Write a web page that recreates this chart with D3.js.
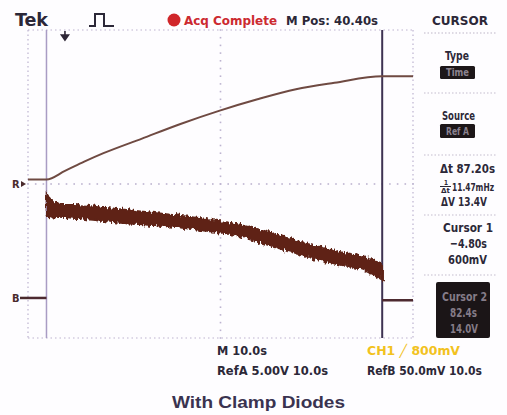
<!DOCTYPE html>
<html>
<head>
<meta charset="utf-8">
<script src="https://cdn.jsdelivr.net/npm/d3@7"></script>
<style>
  html, body { margin: 0; padding: 0; background: #fff; }
  svg { display: block; }
  .lbl { font-family: "DejaVu Sans Condensed", "Liberation Sans Narrow", "Liberation Sans", sans-serif; font-weight: bold; }
</style>
</head>
<body>
<div id="scope"></div>
<script>
// ---- data ----
// time axis (s): centre of screen is M Pos 40.40s, 10.0s/div
const timeDomain = [-9.6, 90.4];

// Ref A (5.00V/div), thin rising trace
const refATime  = [-9.6, -4.8, 0, 5, 10, 20, 30, 40, 50, 60, 70, 82.4, 90.4];
const refAVolts = [0.6, 0.6, 1.7, 2.9, 4.0, 5.9, 7.8, 9.5, 11.0, 12.3, 13.15, 14.0, 14.0];

// Ref B (50.0mV/div), noisy band between cursors: top and bottom of the band in mV
const refBTime   = [-4.8, -3.5, -1.3, 2.1, 10.9, 28.1, 35.1, 43.6, 52.5, 61.1, 69.6, 78.5, 82.4];
const refBTopMv  = [136, 127, 121, 121, 117, 108, 104, 97, 86, 73, 62, 52, 45];
const refBBotMv  = [105, 104, 105, 104, 99, 92, 88, 82, 69, 56, 45, 34, 23];
// Ref B outside the cursors
const refBPreTime = [-9.6, -4.8],  refBPreMv  = [0, 0];
const refBPostTime = [82.4, 90.4], refBPostMv = [-3, -3];

// cursors
const cursorTimes = [-4.8, 82.4];
const triggerTime = 0;

// readouts
const headerTexts = ['Tek', 'Acq Complete', 'M Pos: 40.40s', 'CURSOR'];
const bottomTexts = ['M 10.0s', 'CH1 \u2571 800mV', 'RefA 5.00V 10.0s', 'RefB 50.0mV 10.0s'];
const cursorReadouts = ['\u0394t 87.20s', '11.47mHz', '\u0394V 13.4V', 'Cursor 1', '\u22124.80s', '600mV'];
const cursor2Readouts = ['Cursor 2', '82.4s', '14.0V'];
const caption = 'With Clamp Diodes';

// channel settings
const refAScale = 5, refAPos = 0;        // V/div, divisions
const refBScale = 50, refBPos = -2.96;   // mV/div, divisions

const width = 507, height = 415;
const grat = { left: 28, right: 413, top: 30, bottom: 338 };

const svg = d3.select('#scope').append('svg')
  .attr('width', width)
  .attr('height', height);

const defs = svg.append('defs');
// ragged edges for the noisy trace
const rough = defs.append('filter').attr('id', 'rough')
  .attr('x', '-5%').attr('y', '-30%').attr('width', '110%').attr('height', '160%');
rough.append('feTurbulence')
  .attr('type', 'fractalNoise').attr('baseFrequency', '0.45 0.12')
  .attr('numOctaves', 2).attr('seed', 4).attr('result', 'noise');
rough.append('feDisplacementMap')
  .attr('in', 'SourceGraphic').attr('in2', 'noise')
  .attr('scale', 7).attr('xChannelSelector', 'R').attr('yChannelSelector', 'G');

svg.append('rect').attr('width', width).attr('height', height).attr('fill', '#fefdff');

// scales
const x = d3.scaleLinear().domain(timeDomain).range([grat.left, grat.right]);
const y = d3.scaleLinear().domain([-4, 4]).range([grat.bottom, grat.top]);
const yA = v => y(v / refAScale + refAPos);
const yB = mv => y(mv / refBScale + refBPos);

// ---- graticule: dotted border and centre cross with minor ticks ----
const gridColor = '#bdb4d0';
const g = svg.append('g');
[grat.top, grat.bottom].forEach(yy => g.append('line')
  .attr('x1', grat.left).attr('x2', grat.right).attr('y1', yy).attr('y2', yy)
  .attr('stroke', gridColor).attr('stroke-width', 1.2).attr('stroke-dasharray', '1.5,3'));
[grat.left, grat.right].forEach(xx => g.append('line')
  .attr('x1', xx).attr('x2', xx).attr('y1', grat.top).attr('y2', grat.bottom)
  .attr('stroke', gridColor).attr('stroke-width', 1.2).attr('stroke-dasharray', '1.5,3'));

const xMinor = d3.range(0, 51).map(i => grat.left + i * (grat.right - grat.left) / 50);
const yMinor = d3.range(0, 41).map(i => grat.top + i * (grat.bottom - grat.top) / 40);
g.selectAll('.hdot').data(xMinor).enter().append('rect')
  .attr('x', d => d - 0.8).attr('y', y(0) - 0.8).attr('width', 1.6).attr('height', 1.6)
  .attr('fill', gridColor);
g.selectAll('.vdot').data(yMinor).enter().append('rect')
  .attr('x', x(40.4) - 0.8).attr('y', d => d - 0.8).attr('width', 1.6).attr('height', 1.6)
  .attr('fill', gridColor);

// ---- cursors ----
svg.append('line')
  .attr('x1', x(cursorTimes[0])).attr('x2', x(cursorTimes[0]))
  .attr('y1', grat.top).attr('y2', grat.bottom)
  .attr('stroke', '#a99cc4').attr('stroke-width', 1.5);
svg.append('line')
  .attr('x1', x(cursorTimes[1])).attr('x2', x(cursorTimes[1]))
  .attr('y1', grat.top).attr('y2', grat.bottom)
  .attr('stroke', '#3e3252').attr('stroke-width', 2);

// ---- Ref B trace ----
const bandArea = d3.area()
  .x((d, i) => x(refBTime[i]))
  .y0((d, i) => yB(refBBotMv[i]))
  .y1((d, i) => yB(refBTopMv[i]))
  .curve(d3.curveMonotoneX);
svg.append('path')
  .datum(refBTime)
  .attr('d', bandArea)
  .attr('fill', '#5e2419')
  .attr('stroke', '#5e2419').attr('stroke-width', 1.5)
  .attr('filter', 'url(#rough)');

const flatLine = d3.line().x(d => x(d[0])).y(d => yB(d[1]));
svg.append('path')
  .datum(refBPreTime.map((t, i) => [t, refBPreMv[i]]))
  .attr('d', flatLine).attr('fill', 'none')
  .attr('stroke', '#4d2a30').attr('stroke-width', 2.5);
svg.append('path')
  .datum(refBPostTime.map((t, i) => [t, refBPostMv[i]]))
  .attr('d', flatLine).attr('fill', 'none')
  .attr('stroke', '#4d2a30').attr('stroke-width', 2.5);

// ---- Ref A trace ----
const lineA = d3.line()
  .x(d => x(d[0])).y(d => yA(d[1]))
  .curve(d3.curveMonotoneX);
svg.append('path')
  .datum(refATime.map((t, i) => [t, refAVolts[i]]))
  .attr('d', lineA).attr('fill', 'none')
  .attr('stroke', '#6f4a42').attr('stroke-width', 2);

// reference markers on the left
svg.append('text').attr('class', 'lbl')
  .attr('x', 12).attr('y', yA(0) + 4)
  .attr('font-size', 11).attr('fill', '#4a2a2c').text('R');
svg.append('path')
  .attr('d', `M21,${yA(0) - 3}L26,${yA(0)}L21,${yA(0) + 3}Z`).attr('fill', '#4a2a2c');
svg.append('text').attr('class', 'lbl')
  .attr('x', 12).attr('y', yB(0) + 4)
  .attr('font-size', 11).attr('fill', '#4a2a2c').text('B');
svg.append('line')
  .attr('x1', 20).attr('x2', grat.left).attr('y1', yB(0)).attr('y2', yB(0))
  .attr('stroke', '#4a2a2c').attr('stroke-width', 2.5);

// trigger position marker
const tx = x(triggerTime);
svg.append('path')
  .attr('d', `M${tx},31V37M${tx - 3.5},35H${tx + 3.5}L${tx},40Z`)
  .attr('stroke', '#2e2636').attr('stroke-width', 1.6).attr('fill', '#2e2636');

// ---- header ----
const dark = '#2c2838';
svg.append('text').attr('class', 'lbl')
  .attr('x', 15).attr('y', 26).attr('font-size', 17).attr('fill', dark)
  .attr('textLength', 33).attr('lengthAdjust', 'spacingAndGlyphs').text(headerTexts[0]);
svg.append('path')
  .attr('d', 'M89,26H95V14H104V26H114')
  .attr('fill', 'none').attr('stroke', dark).attr('stroke-width', 2);
svg.append('circle').attr('cx', 174).attr('cy', 20).attr('r', 6.5).attr('fill', '#d0262a');
svg.append('text').attr('class', 'lbl')
  .attr('x', 184).attr('y', 25).attr('font-size', 13).attr('fill', '#cc2a30')
  .attr('textLength', 93).attr('lengthAdjust', 'spacingAndGlyphs').text(headerTexts[1]);
svg.append('text').attr('class', 'lbl')
  .attr('x', 286).attr('y', 25).attr('font-size', 13).attr('fill', dark)
  .attr('textLength', 92).attr('lengthAdjust', 'spacingAndGlyphs').text(headerTexts[2]);
svg.append('text').attr('class', 'lbl')
  .attr('x', 432).attr('y', 25).attr('font-size', 13).attr('fill', dark)
  .attr('textLength', 56).attr('lengthAdjust', 'spacingAndGlyphs').text(headerTexts[3]);
svg.append('line').attr('x1', 424).attr('x2', 497).attr('y1', 33).attr('y2', 33)
  .attr('stroke', '#bdb6c8').attr('stroke-width', 1.2).attr('stroke-dasharray', '1.5,2');

// ---- right-hand cursor menu ----
const sepYs = [93, 155, 215, 275];
svg.selectAll('.sep').data(sepYs).enter().append('line')
  .attr('x1', 424).attr('x2', 497).attr('y1', d => d).attr('y2', d => d)
  .attr('stroke', '#c4bdce').attr('stroke-width', 1.2).attr('stroke-dasharray', '1.5,2');

function menuText(txt, xx, yy, len, size, fill) {
  return svg.append('text').attr('class', 'lbl')
    .attr('x', xx).attr('y', yy).attr('font-size', size || 13).attr('fill', fill || dark)
    .attr('textLength', len).attr('lengthAdjust', 'spacingAndGlyphs').text(txt);
}
menuText('Type', 445, 60, 24);
svg.append('rect').attr('x', 440).attr('y', 66).attr('width', 35).attr('height', 13)
  .attr('rx', 1.5).attr('fill', '#1d1719');
menuText('Time', 446, 76, 23, 10, '#8c8390');
menuText('Source', 442, 120, 33);
svg.append('rect').attr('x', 440).attr('y', 124).attr('width', 35).attr('height', 14)
  .attr('rx', 1.5).attr('fill', '#1d1719');
menuText('Ref A', 446, 135, 23, 10, '#8c8390');

menuText(cursorReadouts[0], 440, 173, 55);
// stacked 1/Δt glyph
menuText('1', 444, 185, 4, 7);
svg.append('line').attr('x1', 440).attr('x2', 451).attr('y1', 186.5).attr('y2', 186.5)
  .attr('stroke', dark).attr('stroke-width', 1);
menuText('\u0394t', 441, 193, 9, 7);
menuText(cursorReadouts[1], 452, 191, 42, 10);
menuText(cursorReadouts[2], 441, 206, 46);
menuText(cursorReadouts[3], 443, 232, 50);
menuText(cursorReadouts[4], 450, 248, 37);
menuText(cursorReadouts[5], 448, 264, 39);

svg.append('rect').attr('x', 436).attr('y', 282).attr('width', 54).attr('height', 56)
  .attr('rx', 2).attr('fill', '#1b1517');
menuText(cursor2Readouts[0], 442, 301, 45, 12, '#857c88');
menuText(cursor2Readouts[1], 450, 317, 27, 12, '#857c88');
menuText(cursor2Readouts[2], 450, 333, 28, 12, '#857c88');

// ---- bottom readouts ----
menuText(bottomTexts[0], 217, 355, 50, 12);
menuText(bottomTexts[1], 367, 355, 93, 12, '#f2c21e');
menuText(bottomTexts[2], 217, 375, 111, 12);
menuText(bottomTexts[3], 367, 375, 115, 12);

// caption
svg.append('text')
  .attr('x', 258.5).attr('y', 408).attr('text-anchor', 'middle')
  .attr('font-family', '"Liberation Sans", Arial, sans-serif').attr('font-weight', 'bold')
  .attr('font-size', 16).attr('fill', '#3a3350')
  .attr('textLength', 173).attr('lengthAdjust', 'spacingAndGlyphs')
  .text(caption);
</script>
</body>
</html>
